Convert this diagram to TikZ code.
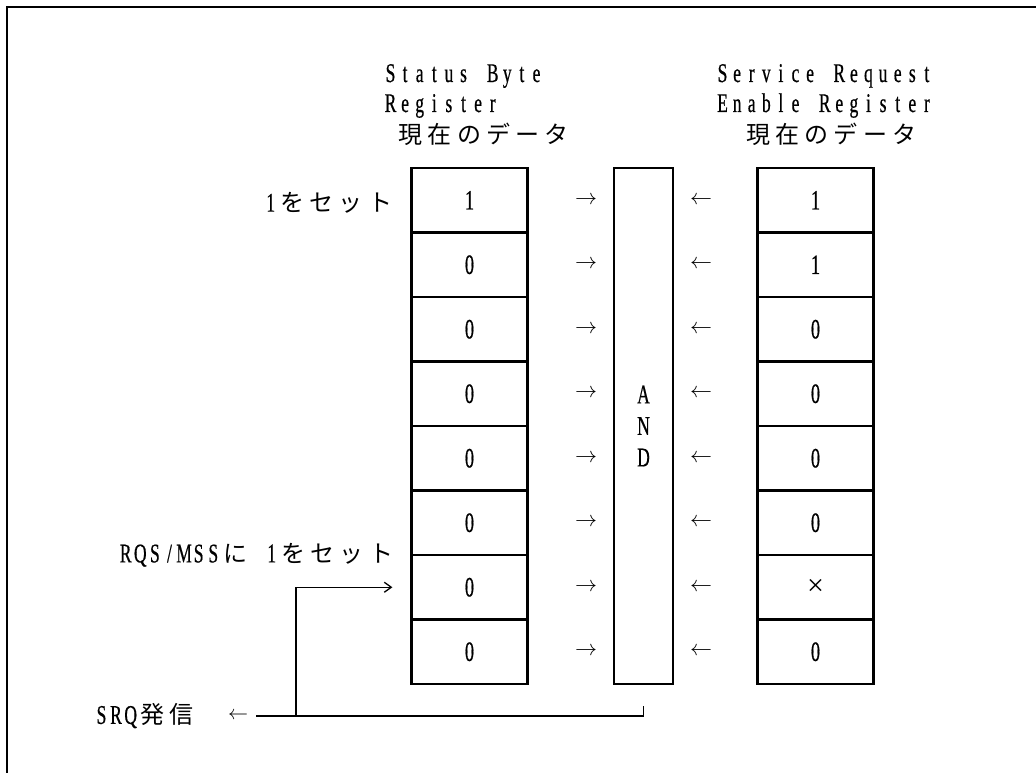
\documentclass[tikz,border=0pt]{standalone}
\usepackage{fontspec}
\usepackage{graphicx}
\usetikzlibrary{arrows.meta,calc}
\newfontfamily\latf{Liberation Serif}[FakeStretch=0.65,FakeBold=0.5]
\newfontfamily\plainf{Liberation Serif}
\newfontfamily\jpf{Noto Sans CJK JP}
\newcommand\HW[1]{\HWloop#1\relax}
\def\HWloop#1{\ifx#1\relax\else\makebox[14.6pt]{#1}\expandafter\HWloop\fi}
\newcommand\FW[1]{{\jpf\fontsize{24}{24}\selectfont\FWloop#1\relax}}
\def\FWloop#1{\ifx#1\relax\else\makebox[29.2pt]{#1}\expandafter\FWloop\fi}
\newcommand\bigtimes{{\plainf\fontsize{30}{30}\selectfont ×}}
\begin{document}
\begin{tikzpicture}[x=1pt,y=-1pt,
  txt/.style={inner sep=0pt, font=\latf\fontsize{27}{28}\selectfont},
  cell/.style={draw, line width=2.2pt, minimum width=116pt, minimum height=64.5pt, inner sep=0pt, font=\latf\fontsize{28}{28}\selectfont},
  andbox/.style={draw, line width=2.2pt, minimum width=58.5pt, minimum height=516pt, inner sep=0pt, align=center, font=\latf\fontsize{27}{31.5}\selectfont},
  tarrow/.style={inner sep=0pt},
  wire/.style={line width=1.3pt},
  frame/.style={line width=1.5pt}]
\useasboundingbox (0,0) rectangle (1036,773);
% frame
\draw[frame] (7,773) -- (7,7) -- (1036,7);
% titles
\node[txt, anchor=base west] (t1) at (383,82) {\HW{Status~Byte}};
\node[txt, anchor=base west] (t2) at (383,112) {\HW{Register}};
\node[txt, anchor=base west] (t3) at (396,144) {\FW{現在のデータ}};
\node[txt, anchor=base west] (u1) at (715,82) {\HW{Service~Request}};
\node[txt, anchor=base west] (u2) at (715,112) {\HW{Enable~Register}};
\node[txt, anchor=base west] (u3) at (743.5,144) {\FW{現在のデータ}};
% registers
\foreach \v [count=\i from 0] in {1,0,0,0,0,0,0,0}
  \node[cell] (s\i) at (469.5, {168+64.5*(\i+0.5)}) {\v};
\foreach \v [count=\i from 0] in {1,1,0,0,0,0,\bigtimes,0}
  \node[cell] (e\i) at (815.5, {168+64.5*(\i+0.5)}) {\v};
\node[andbox] (and) at (643.5,426) {A\\N\\D};
% arrows
\foreach \i in {0,...,7} {
  \node[tarrow] (ra\i) at (586, {168+64.5*(\i+0.5)}) {\scalebox{2.2}{$\rightarrow$}};
  \node[tarrow] (la\i) at (701, {168+64.5*(\i+0.5)}) {\scalebox{2.2}{$\leftarrow$}};
}
% side labels
\node[txt, anchor=east] (l1) at (395,203) {\HW{1}\FW{をセット}};
\node[txt, anchor=east] (l2) at (396,555) {\HW{RQS/MSS}\FW{に}\HW{~1}\FW{をセット}};
\node[txt, anchor=west] (l3) at (94,716) {\HW{SRQ}\FW{発信}};
\node[tarrow] (srqa) at (238,716) {\scalebox{2.0}{$\leftarrow$}};
% feedback wire
\coordinate (tick) at ($(and.south)+(0,21)$);
\coordinate (lineend) at (256,716);
\coordinate (branch) at (296,716);
\coordinate (tgt) at ($(s6.west)+(-18,0)$);
\draw[wire] (tick) -- (tick |- lineend) -- (lineend);
\draw[wire, -{Straight Barb[length=7pt,width=10pt]}] (branch) |- (tgt);
\end{tikzpicture}
\end{document}
